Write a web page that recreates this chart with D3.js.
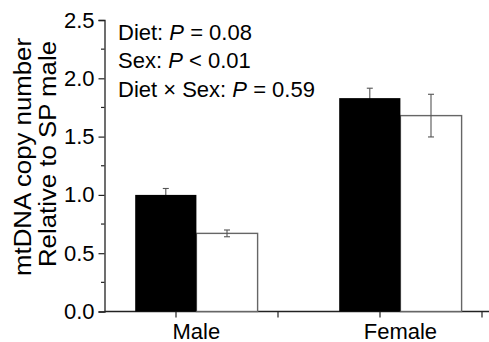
<!DOCTYPE html>
<html>
<head>
<meta charset="utf-8">
<script src="https://cdn.jsdelivr.net/npm/d3@7"></script>
<style>
  body { margin: 0; background: #fff; }
  svg { display: block; font-family: "Liberation Sans", Arial, sans-serif; }
</style>
</head>
<body>
<div id="chart"></div>
<script>
// data
var groups = ["Male", "Female"];
var groupPos = [1, 2];
var blackVals = [1.00, 1.83];
var blackErr = [0.055, 0.085];
var whiteVals = [0.67, 1.68];
var whiteErr = [0.029, 0.183];
var yTicks = [0, 0.5, 1.0, 1.5, 2.0, 2.5];
var yMinor = [0.25, 0.75, 1.25, 1.75, 2.25];
var xMinor = [1.5, 2.5];
var notes = ["Diet: ", "Sex: ", "Diet \u00d7 Sex: "];
var noteOps = [" = 0.08", " < 0.01", " = 0.59"];

var width = 489, height = 342;

var svg = d3.select("#chart").append("svg")
    .attr("width", width)
    .attr("height", height);

var x = d3.scaleLinear().domain([1, 2]).range([176, 380]);
var y = d3.scaleLinear().domain([0, 2.5]).range([311.5, 20]);

var axisX = 104.5, axisEnd = 492;
var barW = 0.3, blackOff = -0.2;   // in x units relative to the tick

// y axis
var yAxis = svg.append("g")
    .attr("transform", "translate(" + axisX + ",0)")
    .call(d3.axisLeft(y).tickValues(yTicks).tickFormat(d3.format(".1f")).tickSizeOuter(0).tickSize(6).tickPadding(4));
yAxis.select(".domain").attr("stroke", "#222").attr("stroke-width", 1.3);
yAxis.selectAll(".tick line").attr("stroke", "#222").attr("stroke-width", 1.2);
yAxis.selectAll(".tick text").attr("font-size", 22).attr("fill", "#000")
    .attr("font-family", "Liberation Sans, Arial, sans-serif");
yAxis.selectAll(".minor").data(yMinor).enter().append("line")
    .attr("x1", -3.5).attr("x2", 0)
    .attr("y1", function(d){ return y(d); }).attr("y2", function(d){ return y(d); })
    .attr("stroke", "#222").attr("stroke-width", 1.2);

// x axis
var xg = svg.append("g").attr("transform", "translate(0," + y(0) + ")");
xg.append("line").attr("x1", axisX).attr("x2", axisEnd)
    .attr("stroke", "#222").attr("stroke-width", 1.3);
xg.selectAll(".xt").data(groupPos.concat(xMinor)).enter().append("line")
    .attr("x1", function(d){ return x(d); }).attr("x2", function(d){ return x(d); })
    .attr("y1", 0).attr("y2", 6)
    .attr("stroke", "#222").attr("stroke-width", 1.2);
xg.selectAll(".xl").data(groups).enter().append("text")
    .attr("x", function(d, i){ return x(groupPos[i] + blackOff + barW); })
    .attr("y", 27)
    .attr("text-anchor", "middle")
    .attr("font-size", 22)
    .text(function(d){ return d; });

// white bars (drawn first so errors sit on top)
svg.selectAll(".wbar").data(whiteVals).enter().append("rect")
    .attr("x", function(d, i){ return x(groupPos[i] + blackOff + barW); })
    .attr("width", x(1 + barW) - x(1))
    .attr("y", function(d){ return y(d); })
    .attr("height", function(d){ return y(0) - y(d); })
    .attr("fill", "#fff")
    .attr("stroke", "#666")
    .attr("stroke-width", 1.4);

// error bars
function errBars(vals, errs, off) {
  var g = svg.append("g");
  vals.forEach(function(v, i) {
    var cx = x(groupPos[i] + off + barW / 2);
    g.append("line").attr("x1", cx).attr("x2", cx)
        .attr("y1", y(v - errs[i])).attr("y2", y(v + errs[i]));
    [v - errs[i], v + errs[i]].forEach(function(e) {
      g.append("line").attr("x1", cx - 3).attr("x2", cx + 3)
          .attr("y1", y(e)).attr("y2", y(e));
    });
  });
  g.attr("stroke", "#555").attr("stroke-width", 1.1);
}
errBars(whiteVals, whiteErr, blackOff + barW);
errBars(blackVals, blackErr, blackOff);

// black bars (cover lower half of their error bars)
svg.selectAll(".bbar").data(blackVals).enter().append("rect")
    .attr("x", function(d, i){ return x(groupPos[i] + blackOff); })
    .attr("width", x(1 + barW) - x(1))
    .attr("y", function(d){ return y(d); })
    .attr("height", function(d){ return y(0) - y(d); })
    .attr("fill", "#000");

// y axis title
svg.append("text")
    .attr("transform", "translate(31,157) rotate(-90)")
    .attr("text-anchor", "middle")
    .attr("font-size", 23.5)
    .attr("textLength", 238)
    .attr("lengthAdjust", "spacingAndGlyphs")
    .text("mtDNA copy number");
svg.append("text")
    .attr("transform", "translate(55.5,154) rotate(-90)")
    .attr("text-anchor", "middle")
    .attr("font-size", 23.5)
    .attr("textLength", 226)
    .attr("lengthAdjust", "spacingAndGlyphs")
    .text("Relative to SP male");

// statistics notes
var nt = svg.selectAll(".note").data(notes).enter().append("text")
    .attr("x", 118)
    .attr("y", function(d, i){ return 39.5 + i * 28.7; })
    .attr("font-size", 22);
nt.append("tspan").text(function(d){ return d; });
nt.append("tspan").attr("font-style", "italic").text("P");
nt.append("tspan").text(function(d, i){ return noteOps[i]; });
</script>
</body>
</html>
